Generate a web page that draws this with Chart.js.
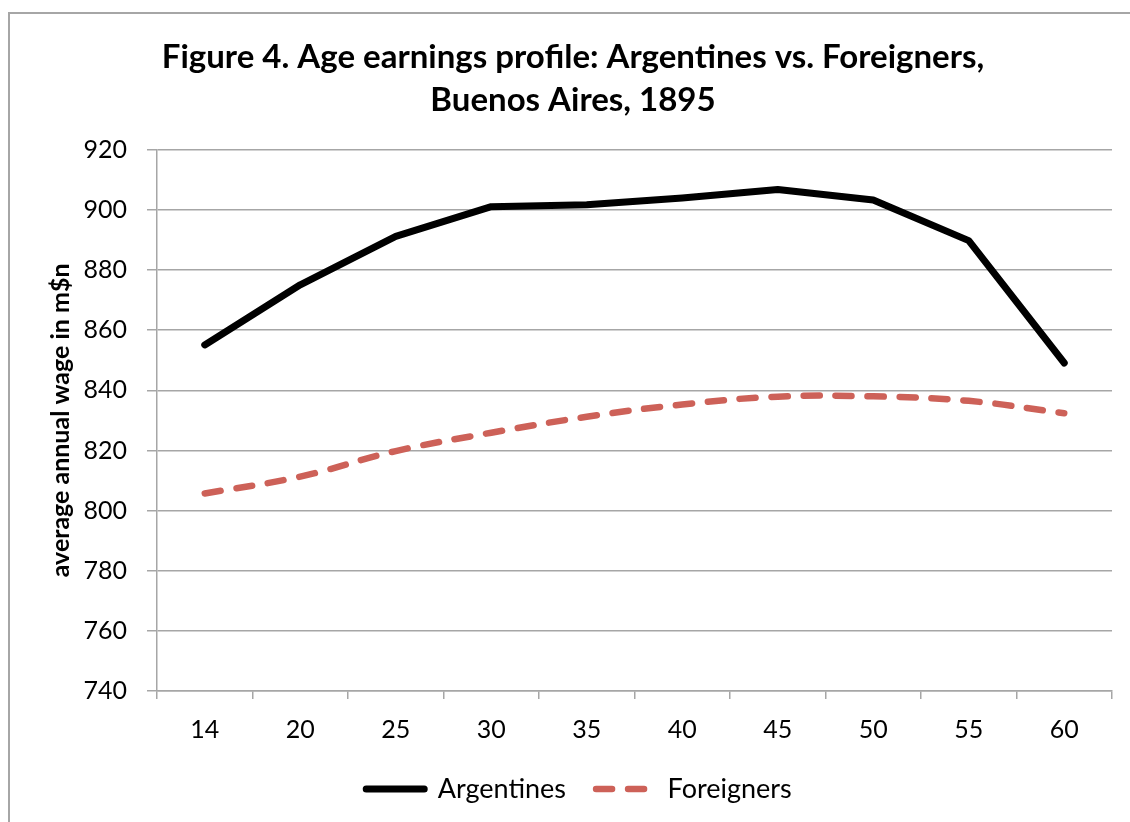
<!DOCTYPE html>
<html>
<head>
<meta charset="utf-8">
<script src="https://cdn.jsdelivr.net/npm/chart.js@4"></script>
<style>
  html, body { margin: 0; padding: 0; background: #fff; }
  #wrap { width: 1130px; height: 822px; }
</style>
</head>
<body>
<div id="wrap"><canvas id="myChart" width="1130" height="822"></canvas></div>
<script>
// dati
const ageLabels = ['14', '20', '25', '30', '35', '40', '45', '50', '55', '60'];
const argentines = [855.1, 875.1, 891.2, 901.1, 901.7, 904.0, 906.8, 903.3, 889.8, 849.1];
const foreigners = [805.7, 811.3, 819.8, 825.9, 831.2, 835.3, 837.9, 838.0, 836.5, 832.4];
const yTicks = { min: 740, max: 920, step: 20 };

const gridColor = '#a6a6a6';
const fontFamily = 'Lato, "Open Sans", sans-serif';

// cornice esterna del grafico
const framePlugin = {
  id: 'frame',
  beforeDraw(chart) {
    const ctx = chart.ctx;
    ctx.save();
    ctx.fillStyle = '#fff';
    ctx.fillRect(0, 0, chart.width, chart.height);
    ctx.strokeStyle = '#a6a6a6';
    ctx.lineWidth = 2;
    ctx.strokeRect(9, 13, chart.width + 20, chart.height + 20);
    ctx.restore();
  }
};

// sposta un po' legenda e titolo verso destra come nell'originale
const boxShift = {
  id: 'boxShift',
  afterLayout(chart) {
    if (chart.legend) {
      chart.legend.left += 18;
      chart.legend.right += 18;
    }
    if (chart.titleBlock) {
      chart.titleBlock.left += 12;
      chart.titleBlock.right += 12;
    }
  }
};

const ctx = document.getElementById('myChart').getContext('2d');
const chart = new Chart(ctx, {
  type: 'line',
  plugins: [framePlugin, boxShift],
  data: {
    labels: ageLabels,
    datasets: [{
      label: 'Argentines',
      data: argentines,
      borderColor: '#000',
      backgroundColor: '#000',
      borderWidth: 7,
      borderCapStyle: 'round',
      borderJoinStyle: 'round',
      pointRadius: 0,
      tension: 0,
      fill: false
    },
    {
      label: 'Foreigners',
      data: foreigners,
      borderColor: '#cd6158',
      backgroundColor: '#cd6158',
      borderWidth: 6.5,
      borderDash: [16, 16],
      borderCapStyle: 'round',
      pointRadius: 0,
      tension: 0.4,
      fill: false
    }]
  },
  options: {
    responsive: false,
    animation: false,
    layout: { padding: { left: 10, right: 18, top: 0, bottom: 9.5 } },
    plugins: {
      title: {
        display: true,
        text: ['Figure 4. Age earnings profile: Argentines vs. Foreigners,', 'Buenos Aires, 1895'],
        color: '#000',
        font: { family: fontFamily, size: 33, weight: 'bold', lineHeight: 1.3 },
        padding: { top: 36, bottom: 28 }
      },
      legend: {
        position: 'bottom',
        labels: {
          color: '#000',
          font: { family: fontFamily, size: 27 },
          usePointStyle: true,
          pointStyle: 'line',
          pointStyleWidth: 58,
          boxHeight: 25,
          padding: 30,
          // il trattino della legenda segue lo stile della linea
          generateLabels(chart) {
            const items = Chart.defaults.plugins.legend.labels.generateLabels(chart);
            items.forEach(item => {
              const ds = chart.data.datasets[item.datasetIndex];
              item.lineDash = ds.borderDash || [];
              item.lineCap = 'round';
            });
            return items;
          }
        }
      },
      tooltip: { enabled: false }
    },
    scales: {
      x: {
        offset: true,
        grid: {
          offset: true,
          drawOnChartArea: false,
          drawTicks: true,
          tickLength: 8,
          color: gridColor,
          lineWidth: 1.5
        },
        border: { color: gridColor, width: 1.5 },
        ticks: {
          color: '#000',
          font: { family: fontFamily, size: 25 },
          padding: 16,
          maxRotation: 0
        },
        afterFit(scale) { scale.height = 54.5; }
      },
      y: {
        min: yTicks.min,
        max: yTicks.max,
        grid: {
          color: gridColor,
          lineWidth: 1.5,
          tickLength: 10
        },
        border: { color: gridColor, width: 1.5 },
        ticks: {
          stepSize: yTicks.step,
          color: '#000',
          font: { family: fontFamily, size: 25 },
          padding: 20
        },
        title: {
          display: true,
          text: 'average annual wage in m$n',
          color: '#000',
          font: { family: fontFamily, size: 25, weight: 'bold', lineHeight: 1.2 },
          padding: { top: 36, bottom: 0 }
        },
        afterFit(scale) { scale.width = 147; }
      }
    }
  }
});
</script>
</body>
</html>
